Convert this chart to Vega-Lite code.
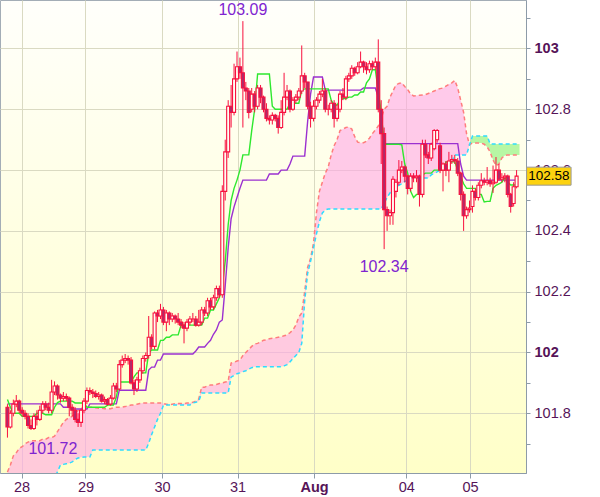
{
"$schema":"https://vega.github.io/schema/vega-lite/v6.json",
"width":526,"height":473,
"autosize":"none",
"padding":{"left":0,"top":0,"right":74,"bottom":24},
"background":"#ffffff",
"config":{
 "view":{"stroke":"#a3adb6","strokeWidth":1,"fill":{"gradient":"linear","x1":0,"y1":0,"x2":0,"y2":1,"stops":[{"offset":0,"color":"#fffffb"},{"offset":1,"color":"#ffffc8"}]}},
 "font":"Liberation Sans",
 "axis":{"labelFont":"Liberation Sans","labelColor":"#561458","domainColor":"#8d9ba8","tickColor":"#8d9ba8","gridColor":"#dadac2","gridWidth":1}
},
"datasets":{
"bars":[
{"i":0,"o":101.82,"h":101.83,"l":101.72,"c":101.755,"t":101.845,"k":101.831,"a":101.607,"b":101.56},
{"i":1,"o":101.755,"h":101.81,"l":101.75,"c":101.80,"t":101.82,"k":101.831,"a":101.63,"b":101.56},
{"i":2,"o":101.80,"h":101.845,"l":101.79,"c":101.83,"t":101.80,"k":101.831,"a":101.66,"b":101.56},
{"i":3,"o":101.83,"h":101.86,"l":101.82,"c":101.84,"t":101.80,"k":101.831,"a":101.67,"b":101.56},
{"i":4,"o":101.84,"h":101.845,"l":101.80,"c":101.81,"t":101.80,"k":101.831,"a":101.685,"b":101.56},
{"i":5,"o":101.81,"h":101.82,"l":101.79,"c":101.80,"t":101.79,"k":101.831,"a":101.69,"b":101.56},
{"i":6,"o":101.80,"h":101.81,"l":101.78,"c":101.79,"t":101.79,"k":101.831,"a":101.70,"b":101.56},
{"i":7,"o":101.79,"h":101.80,"l":101.75,"c":101.76,"t":101.79,"k":101.831,"a":101.705,"b":101.56},
{"i":8,"o":101.76,"h":101.78,"l":101.745,"c":101.75,"t":101.79,"k":101.831,"a":101.71,"b":101.56},
{"i":9,"o":101.75,"h":101.80,"l":101.745,"c":101.79,"t":101.79,"k":101.831,"a":101.71,"b":101.56},
{"i":10,"o":101.79,"h":101.81,"l":101.76,"c":101.78,"t":101.80,"k":101.831,"a":101.71,"b":101.56},
{"i":11,"o":101.78,"h":101.825,"l":101.775,"c":101.81,"t":101.80,"k":101.831,"a":101.71,"b":101.56},
{"i":12,"o":101.81,"h":101.84,"l":101.80,"c":101.83,"t":101.80,"k":101.831,"a":101.715,"b":101.56},
{"i":13,"o":101.83,"h":101.84,"l":101.81,"c":101.82,"t":101.795,"k":101.831,"a":101.715,"b":101.56},
{"i":14,"o":101.82,"h":101.835,"l":101.80,"c":101.81,"t":101.795,"k":101.831,"a":101.72,"b":101.56},
{"i":15,"o":101.81,"h":101.91,"l":101.80,"c":101.87,"t":101.795,"k":101.831,"a":101.72,"b":101.56},
{"i":16,"o":101.87,"h":101.905,"l":101.86,"c":101.89,"t":101.82,"k":101.831,"a":101.725,"b":101.59},
{"i":17,"o":101.89,"h":101.895,"l":101.845,"c":101.86,"t":101.835,"k":101.831,"a":101.74,"b":101.607},
{"i":18,"o":101.86,"h":101.865,"l":101.835,"c":101.85,"t":101.84,"k":101.831,"a":101.755,"b":101.63},
{"i":19,"o":101.85,"h":101.87,"l":101.84,"c":101.855,"t":101.84,"k":101.82,"a":101.77,"b":101.632},
{"i":20,"o":101.855,"h":101.865,"l":101.84,"c":101.85,"t":101.84,"k":101.82,"a":101.78,"b":101.634},
{"i":21,"o":101.85,"h":101.855,"l":101.79,"c":101.82,"t":101.84,"k":101.82,"a":101.785,"b":101.636},
{"i":22,"o":101.82,"h":101.83,"l":101.79,"c":101.81,"t":101.84,"k":101.814,"a":101.79,"b":101.64},
{"i":23,"o":101.81,"h":101.82,"l":101.77,"c":101.78,"t":101.834,"k":101.814,"a":101.80,"b":101.648},
{"i":24,"o":101.78,"h":101.80,"l":101.755,"c":101.77,"t":101.834,"k":101.814,"a":101.81,"b":101.653},
{"i":25,"o":101.77,"h":101.815,"l":101.755,"c":101.81,"t":101.834,"k":101.814,"a":101.815,"b":101.655},
{"i":26,"o":101.81,"h":101.85,"l":101.80,"c":101.84,"t":101.834,"k":101.814,"a":101.82,"b":101.656},
{"i":27,"o":101.84,"h":101.885,"l":101.83,"c":101.875,"t":101.82,"k":101.814,"a":101.82,"b":101.656},
{"i":28,"o":101.875,"h":101.885,"l":101.86,"c":101.87,"t":101.82,"k":101.831,"a":101.82,"b":101.656},
{"i":29,"o":101.87,"h":101.88,"l":101.85,"c":101.865,"t":101.82,"k":101.831,"a":101.82,"b":101.679},
{"i":30,"o":101.865,"h":101.875,"l":101.85,"c":101.855,"t":101.82,"k":101.831,"a":101.818,"b":101.679},
{"i":31,"o":101.855,"h":101.87,"l":101.845,"c":101.86,"t":101.82,"k":101.831,"a":101.817,"b":101.679},
{"i":32,"o":101.86,"h":101.865,"l":101.835,"c":101.84,"t":101.82,"k":101.831,"a":101.817,"b":101.679},
{"i":33,"o":101.84,"h":101.855,"l":101.83,"c":101.845,"t":101.82,"k":101.831,"a":101.815,"b":101.679},
{"i":34,"o":101.845,"h":101.85,"l":101.825,"c":101.83,"t":101.827,"k":101.831,"a":101.815,"b":101.679},
{"i":35,"o":101.83,"h":101.86,"l":101.825,"c":101.85,"t":101.827,"k":101.831,"a":101.815,"b":101.679},
{"i":36,"o":101.85,"h":101.90,"l":101.845,"c":101.89,"t":101.827,"k":101.831,"a":101.818,"b":101.679},
{"i":37,"o":101.89,"h":101.90,"l":101.87,"c":101.88,"t":101.853,"k":101.831,"a":101.82,"b":101.679},
{"i":38,"o":101.88,"h":101.975,"l":101.875,"c":101.96,"t":101.903,"k":101.876,"a":101.82,"b":101.679},
{"i":39,"o":101.96,"h":101.99,"l":101.95,"c":101.975,"t":101.903,"k":101.876,"a":101.82,"b":101.679},
{"i":40,"o":101.975,"h":101.995,"l":101.965,"c":101.98,"t":101.903,"k":101.876,"a":101.822,"b":101.679},
{"i":41,"o":101.98,"h":101.99,"l":101.96,"c":101.975,"t":101.903,"k":101.876,"a":101.825,"b":101.679},
{"i":42,"o":101.975,"h":101.985,"l":101.895,"c":101.90,"t":101.903,"k":101.876,"a":101.827,"b":101.679},
{"i":43,"o":101.90,"h":101.91,"l":101.86,"c":101.88,"t":101.92,"k":101.876,"a":101.827,"b":101.679},
{"i":44,"o":101.88,"h":101.92,"l":101.87,"c":101.91,"t":101.933,"k":101.876,"a":101.83,"b":101.679},
{"i":45,"o":101.91,"h":101.95,"l":101.90,"c":101.94,"t":101.933,"k":101.876,"a":101.832,"b":101.679},
{"i":46,"o":101.94,"h":101.99,"l":101.93,"c":101.98,"t":101.933,"k":101.876,"a":101.834,"b":101.679},
{"i":47,"o":101.98,"h":102.00,"l":101.97,"c":101.99,"t":101.933,"k":101.876,"a":101.834,"b":101.679},
{"i":48,"o":101.99,"h":102.12,"l":101.98,"c":102.05,"t":101.998,"k":101.942,"a":101.834,"b":101.702},
{"i":49,"o":102.05,"h":102.06,"l":102.01,"c":102.02,"t":102.008,"k":101.952,"a":101.834,"b":101.73},
{"i":50,"o":102.02,"h":102.135,"l":102.01,"c":102.13,"t":102.008,"k":101.952,"a":101.834,"b":101.755},
{"i":51,"o":102.13,"h":102.14,"l":102.10,"c":102.12,"t":102.008,"k":101.975,"a":101.834,"b":101.78},
{"i":52,"o":102.12,"h":102.16,"l":102.11,"c":102.14,"t":102.04,"k":101.975,"a":101.834,"b":101.80},
{"i":53,"o":102.14,"h":102.15,"l":102.09,"c":102.10,"t":102.04,"k":101.995,"a":101.832,"b":101.827},
{"i":54,"o":102.10,"h":102.14,"l":102.07,"c":102.13,"t":102.05,"k":101.995,"a":101.83,"b":101.827},
{"i":55,"o":102.13,"h":102.135,"l":102.09,"c":102.11,"t":102.05,"k":101.995,"a":101.828,"b":101.827},
{"i":56,"o":102.11,"h":102.13,"l":102.10,"c":102.12,"t":102.058,"k":101.995,"a":101.83,"b":101.827},
{"i":57,"o":102.12,"h":102.125,"l":102.095,"c":102.11,"t":102.058,"k":101.995,"a":101.832,"b":101.827},
{"i":58,"o":102.11,"h":102.13,"l":102.09,"c":102.10,"t":102.058,"k":101.995,"a":101.832,"b":101.827},
{"i":59,"o":102.10,"h":102.11,"l":102.08,"c":102.09,"t":102.09,"k":101.995,"a":101.832,"b":101.827},
{"i":60,"o":102.09,"h":102.10,"l":102.03,"c":102.08,"t":102.09,"k":101.995,"a":101.832,"b":101.827},
{"i":61,"o":102.08,"h":102.11,"l":102.07,"c":102.10,"t":102.09,"k":101.995,"a":101.834,"b":101.827},
{"i":62,"o":102.10,"h":102.12,"l":102.09,"c":102.11,"t":102.09,"k":101.995,"a":101.834,"b":101.827},
{"i":63,"o":102.11,"h":102.13,"l":102.10,"c":102.11,"t":102.09,"k":101.995,"a":101.836,"b":101.834},
{"i":64,"o":102.11,"h":102.12,"l":102.085,"c":102.09,"t":102.09,"k":102.005,"a":101.84,"b":101.836},
{"i":65,"o":102.09,"h":102.14,"l":102.085,"c":102.10,"t":102.09,"k":102.018,"a":101.847,"b":101.84},
{"i":66,"o":102.10,"h":102.15,"l":102.09,"c":102.14,"t":102.09,"k":102.018,"a":101.886,"b":101.867},
{"i":67,"o":102.14,"h":102.15,"l":102.12,"c":102.13,"t":102.113,"k":102.018,"a":101.886,"b":101.867},
{"i":68,"o":102.13,"h":102.18,"l":102.12,"c":102.17,"t":102.113,"k":102.03,"a":101.89,"b":101.867},
{"i":69,"o":102.17,"h":102.18,"l":102.14,"c":102.15,"t":102.14,"k":102.04,"a":101.893,"b":101.867},
{"i":70,"o":102.15,"h":102.19,"l":102.14,"c":102.18,"t":102.14,"k":102.06,"a":101.893,"b":101.867},
{"i":71,"o":102.18,"h":102.22,"l":102.17,"c":102.21,"t":102.16,"k":102.074,"a":101.895,"b":101.867},
{"i":72,"o":102.21,"h":102.22,"l":102.18,"c":102.19,"t":102.18,"k":102.10,"a":101.898,"b":101.867},
{"i":73,"o":102.19,"h":102.55,"l":102.18,"c":102.53,"t":102.216,"k":102.107,"a":101.90,"b":101.867},
{"i":74,"o":102.53,"h":102.70,"l":102.50,"c":102.66,"t":102.30,"k":102.22,"a":101.903,"b":101.867},
{"i":75,"o":102.66,"h":102.83,"l":102.64,"c":102.81,"t":102.42,"k":102.344,"a":101.905,"b":101.867},
{"i":76,"o":102.81,"h":102.88,"l":102.74,"c":102.79,"t":102.50,"k":102.44,"a":101.965,"b":101.919},
{"i":77,"o":102.79,"h":102.95,"l":102.78,"c":102.90,"t":102.54,"k":102.479,"a":101.968,"b":101.925},
{"i":78,"o":102.90,"h":102.99,"l":102.89,"c":102.94,"t":102.567,"k":102.51,"a":101.972,"b":101.93},
{"i":79,"o":102.94,"h":102.97,"l":102.90,"c":102.92,"t":102.60,"k":102.54,"a":101.975,"b":101.933},
{"i":80,"o":102.92,"h":103.09,"l":102.74,"c":102.87,"t":102.65,"k":102.567,"a":101.99,"b":101.937},
{"i":81,"o":102.87,"h":102.89,"l":102.83,"c":102.86,"t":102.65,"k":102.567,"a":102.00,"b":101.94},
{"i":82,"o":102.86,"h":102.87,"l":102.77,"c":102.79,"t":102.65,"k":102.567,"a":102.01,"b":101.945},
{"i":83,"o":102.80,"h":102.87,"l":102.79,"c":102.85,"t":102.73,"k":102.567,"a":102.02,"b":101.95},
{"i":84,"o":102.85,"h":102.86,"l":102.79,"c":102.81,"t":102.80,"k":102.567,"a":102.028,"b":101.953},
{"i":85,"o":102.81,"h":102.88,"l":102.80,"c":102.87,"t":102.916,"k":102.567,"a":102.03,"b":101.953},
{"i":86,"o":102.87,"h":102.88,"l":102.82,"c":102.84,"t":102.916,"k":102.567,"a":102.035,"b":101.953},
{"i":87,"o":102.84,"h":102.845,"l":102.79,"c":102.80,"t":102.916,"k":102.567,"a":102.04,"b":101.953},
{"i":88,"o":102.80,"h":102.82,"l":102.76,"c":102.77,"t":102.916,"k":102.567,"a":102.042,"b":101.953},
{"i":89,"o":102.77,"h":102.78,"l":102.75,"c":102.765,"t":102.916,"k":102.587,"a":102.045,"b":101.953},
{"i":90,"o":102.765,"h":102.79,"l":102.75,"c":102.78,"t":102.81,"k":102.587,"a":102.047,"b":101.953},
{"i":91,"o":102.78,"h":102.785,"l":102.76,"c":102.77,"t":102.80,"k":102.587,"a":102.048,"b":101.953},
{"i":92,"o":102.77,"h":102.78,"l":102.72,"c":102.74,"t":102.80,"k":102.587,"a":102.05,"b":101.953},
{"i":93,"o":102.74,"h":102.83,"l":102.735,"c":102.79,"t":102.80,"k":102.60,"a":102.052,"b":101.953},
{"i":94,"o":102.79,"h":102.92,"l":102.78,"c":102.84,"t":102.80,"k":102.60,"a":102.055,"b":101.956},
{"i":95,"o":102.84,"h":102.88,"l":102.83,"c":102.86,"t":102.80,"k":102.60,"a":102.058,"b":101.96},
{"i":96,"o":102.86,"h":102.865,"l":102.79,"c":102.80,"t":102.82,"k":102.62,"a":102.065,"b":101.969},
{"i":97,"o":102.80,"h":102.84,"l":102.795,"c":102.83,"t":102.82,"k":102.646,"a":102.074,"b":101.98},
{"i":98,"o":102.83,"h":102.85,"l":102.82,"c":102.84,"t":102.82,"k":102.646,"a":102.09,"b":101.99},
{"i":99,"o":102.84,"h":102.87,"l":102.83,"c":102.86,"t":102.82,"k":102.646,"a":102.117,"b":102.00},
{"i":100,"o":102.86,"h":103.01,"l":102.85,"c":102.91,"t":102.863,"k":102.646,"a":102.13,"b":102.03},
{"i":101,"o":102.91,"h":102.92,"l":102.87,"c":102.89,"t":102.867,"k":102.646,"a":102.20,"b":102.17},
{"i":102,"o":102.89,"h":102.89,"l":102.80,"c":102.81,"t":102.867,"k":102.76,"a":102.28,"b":102.26},
{"i":103,"o":102.81,"h":102.825,"l":102.74,"c":102.77,"t":102.867,"k":102.85,"a":102.31,"b":102.30},
{"i":104,"o":102.77,"h":102.83,"l":102.76,"c":102.81,"t":102.867,"k":102.906,"a":102.36,"b":102.345},
{"i":105,"o":102.81,"h":102.84,"l":102.80,"c":102.83,"t":102.867,"k":102.906,"a":102.46,"b":102.39},
{"i":106,"o":102.83,"h":102.86,"l":102.82,"c":102.85,"t":102.867,"k":102.906,"a":102.53,"b":102.43},
{"i":107,"o":102.85,"h":102.90,"l":102.84,"c":102.86,"t":102.867,"k":102.906,"a":102.56,"b":102.459},
{"i":108,"o":102.86,"h":102.87,"l":102.79,"c":102.80,"t":102.867,"k":102.863,"a":102.59,"b":102.469},
{"i":109,"o":102.80,"h":102.815,"l":102.78,"c":102.80,"t":102.867,"k":102.863,"a":102.61,"b":102.472},
{"i":110,"o":102.80,"h":102.83,"l":102.79,"c":102.82,"t":102.83,"k":102.863,"a":102.65,"b":102.472},
{"i":111,"o":102.82,"h":102.83,"l":102.74,"c":102.77,"t":102.814,"k":102.863,"a":102.68,"b":102.472},
{"i":112,"o":102.77,"h":102.815,"l":102.76,"c":102.80,"t":102.814,"k":102.863,"a":102.70,"b":102.472},
{"i":113,"o":102.80,"h":102.86,"l":102.79,"c":102.85,"t":102.83,"k":102.863,"a":102.73,"b":102.472},
{"i":114,"o":102.85,"h":102.87,"l":102.83,"c":102.84,"t":102.835,"k":102.863,"a":102.735,"b":102.472},
{"i":115,"o":102.84,"h":102.91,"l":102.83,"c":102.90,"t":102.835,"k":102.863,"a":102.74,"b":102.472},
{"i":116,"o":102.90,"h":102.92,"l":102.89,"c":102.91,"t":102.84,"k":102.863,"a":102.742,"b":102.472},
{"i":117,"o":102.91,"h":102.945,"l":102.90,"c":102.935,"t":102.84,"k":102.863,"a":102.735,"b":102.472},
{"i":118,"o":102.935,"h":102.94,"l":102.91,"c":102.92,"t":102.847,"k":102.863,"a":102.71,"b":102.472},
{"i":119,"o":102.92,"h":102.955,"l":102.915,"c":102.94,"t":102.847,"k":102.863,"a":102.692,"b":102.472},
{"i":120,"o":102.94,"h":102.99,"l":102.935,"c":102.955,"t":102.857,"k":102.863,"a":102.69,"b":102.472},
{"i":121,"o":102.955,"h":102.96,"l":102.92,"c":102.94,"t":102.857,"k":102.87,"a":102.69,"b":102.472},
{"i":122,"o":102.94,"h":102.955,"l":102.915,"c":102.93,"t":102.887,"k":102.87,"a":102.695,"b":102.472},
{"i":123,"o":102.93,"h":102.96,"l":102.92,"c":102.95,"t":102.90,"k":102.87,"a":102.705,"b":102.472},
{"i":124,"o":102.95,"h":102.96,"l":102.93,"c":102.94,"t":102.93,"k":102.87,"a":102.72,"b":102.472},
{"i":125,"o":102.94,"h":102.97,"l":102.93,"c":102.955,"t":102.93,"k":102.87,"a":102.732,"b":102.472},
{"i":126,"o":102.955,"h":103.03,"l":102.79,"c":102.80,"t":102.86,"k":102.84,"a":102.745,"b":102.472},
{"i":127,"o":102.80,"h":102.83,"l":102.62,"c":102.72,"t":102.79,"k":102.78,"a":102.77,"b":102.472},
{"i":128,"o":102.72,"h":102.74,"l":102.34,"c":102.47,"t":102.685,"k":102.687,"a":102.80,"b":102.49},
{"i":129,"o":102.47,"h":102.48,"l":102.40,"c":102.45,"t":102.685,"k":102.687,"a":102.81,"b":102.51},
{"i":130,"o":102.45,"h":102.47,"l":102.42,"c":102.46,"t":102.685,"k":102.687,"a":102.84,"b":102.525},
{"i":131,"o":102.46,"h":102.58,"l":102.42,"c":102.57,"t":102.685,"k":102.687,"a":102.86,"b":102.53},
{"i":132,"o":102.53,"h":102.57,"l":102.51,"c":102.56,"t":102.685,"k":102.687,"a":102.88,"b":102.541},
{"i":133,"o":102.56,"h":102.633,"l":102.55,"c":102.60,"t":102.685,"k":102.687,"a":102.885,"b":102.55},
{"i":134,"o":102.60,"h":102.63,"l":102.59,"c":102.61,"t":102.683,"k":102.687,"a":102.887,"b":102.555},
{"i":135,"o":102.61,"h":102.615,"l":102.56,"c":102.58,"t":102.62,"k":102.687,"a":102.875,"b":102.562},
{"i":136,"o":102.58,"h":102.585,"l":102.52,"c":102.54,"t":102.59,"k":102.687,"a":102.865,"b":102.567},
{"i":137,"o":102.54,"h":102.59,"l":102.53,"c":102.58,"t":102.53,"k":102.687,"a":102.85,"b":102.574},
{"i":138,"o":102.58,"h":102.59,"l":102.56,"c":102.575,"t":102.51,"k":102.687,"a":102.844,"b":102.574},
{"i":139,"o":102.575,"h":102.60,"l":102.56,"c":102.58,"t":102.52,"k":102.687,"a":102.845,"b":102.574},
{"i":140,"o":102.58,"h":102.585,"l":102.48,"c":102.52,"t":102.52,"k":102.687,"a":102.846,"b":102.574},
{"i":141,"o":102.52,"h":102.70,"l":102.51,"c":102.685,"t":102.584,"k":102.687,"a":102.847,"b":102.574},
{"i":142,"o":102.685,"h":102.70,"l":102.64,"c":102.65,"t":102.59,"k":102.687,"a":102.848,"b":102.574},
{"i":143,"o":102.65,"h":102.66,"l":102.62,"c":102.64,"t":102.59,"k":102.687,"a":102.852,"b":102.574},
{"i":144,"o":102.64,"h":102.69,"l":102.63,"c":102.685,"t":102.59,"k":102.687,"a":102.856,"b":102.584},
{"i":145,"o":102.67,"h":102.735,"l":102.665,"c":102.73,"t":102.60,"k":102.687,"a":102.86,"b":102.59},
{"i":146,"o":102.70,"h":102.735,"l":102.69,"c":102.73,"t":102.60,"k":102.687,"a":102.865,"b":102.594},
{"i":147,"o":102.68,"h":102.69,"l":102.59,"c":102.60,"t":102.60,"k":102.687,"a":102.868,"b":102.60},
{"i":148,"o":102.60,"h":102.625,"l":102.53,"c":102.62,"t":102.60,"k":102.687,"a":102.87,"b":102.61},
{"i":149,"o":102.62,"h":102.63,"l":102.58,"c":102.60,"t":102.627,"k":102.687,"a":102.876,"b":102.623},
{"i":150,"o":102.60,"h":102.66,"l":102.56,"c":102.63,"t":102.627,"k":102.687,"a":102.882,"b":102.627},
{"i":151,"o":102.63,"h":102.65,"l":102.62,"c":102.635,"t":102.627,"k":102.687,"a":102.887,"b":102.627},
{"i":152,"o":102.635,"h":102.65,"l":102.62,"c":102.63,"t":102.627,"k":102.687,"a":102.895,"b":102.65},
{"i":153,"o":102.63,"h":102.64,"l":102.58,"c":102.59,"t":102.60,"k":102.687,"a":102.87,"b":102.65},
{"i":154,"o":102.59,"h":102.595,"l":102.50,"c":102.52,"t":102.58,"k":102.62,"a":102.83,"b":102.65},
{"i":155,"o":102.52,"h":102.53,"l":102.40,"c":102.45,"t":102.555,"k":102.58,"a":102.79,"b":102.65},
{"i":156,"o":102.45,"h":102.48,"l":102.44,"c":102.47,"t":102.54,"k":102.567,"a":102.72,"b":102.65},
{"i":157,"o":102.47,"h":102.50,"l":102.46,"c":102.475,"t":102.54,"k":102.567,"a":102.683,"b":102.683},
{"i":158,"o":102.48,"h":102.55,"l":102.46,"c":102.53,"t":102.54,"k":102.567,"a":102.689,"b":102.712},
{"i":159,"o":102.53,"h":102.54,"l":102.50,"c":102.51,"t":102.54,"k":102.567,"a":102.689,"b":102.712},
{"i":160,"o":102.51,"h":102.56,"l":102.50,"c":102.55,"t":102.52,"k":102.567,"a":102.689,"b":102.712},
{"i":161,"o":102.55,"h":102.59,"l":102.54,"c":102.565,"t":102.52,"k":102.567,"a":102.689,"b":102.712},
{"i":162,"o":102.565,"h":102.575,"l":102.55,"c":102.56,"t":102.495,"k":102.567,"a":102.685,"b":102.712},
{"i":163,"o":102.56,"h":102.61,"l":102.55,"c":102.565,"t":102.497,"k":102.567,"a":102.676,"b":102.712},
{"i":164,"o":102.565,"h":102.575,"l":102.545,"c":102.555,"t":102.497,"k":102.567,"a":102.66,"b":102.686},
{"i":165,"o":102.555,"h":102.615,"l":102.525,"c":102.56,"t":102.54,"k":102.567,"a":102.633,"b":102.686},
{"i":166,"o":102.56,"h":102.643,"l":102.555,"c":102.60,"t":102.55,"k":102.567,"a":102.615,"b":102.686},
{"i":167,"o":102.60,"h":102.62,"l":102.565,"c":102.57,"t":102.555,"k":102.567,"a":102.62,"b":102.686},
{"i":168,"o":102.57,"h":102.59,"l":102.56,"c":102.575,"t":102.56,"k":102.567,"a":102.64,"b":102.686},
{"i":169,"o":102.575,"h":102.59,"l":102.56,"c":102.58,"t":102.577,"k":102.567,"a":102.648,"b":102.686},
{"i":170,"o":102.58,"h":102.585,"l":102.51,"c":102.52,"t":102.56,"k":102.567,"a":102.65,"b":102.686},
{"i":171,"o":102.52,"h":102.525,"l":102.46,"c":102.48,"t":102.551,"k":102.567,"a":102.65,"b":102.686},
{"i":172,"o":102.49,"h":102.56,"l":102.48,"c":102.545,"t":102.551,"k":102.567,"a":102.65,"b":102.686},
{"i":173,"o":102.545,"h":102.60,"l":102.54,"c":102.58,"t":102.551,"k":102.567,"a":102.65,"b":102.686},
{"i":174,"a":102.65,"b":102.686}
],
"ann":[
{"i":80,"p":103.09,"lab":"103.09"},
{"i":128,"p":102.34,"lab":"102.34"},
{"i":0,"p":101.72,"lab":"101.72"}
],
"now":[{"i":173,"p":102.58,"lab":"102.58"}]
},
"data":{"name":"bars"},
"encoding":{
 "x":{"field":"i","type":"quantitative","title":null,
  "scale":{"domain":[-0.833,174.5],"nice":false,"zero":false},
  "axis":{"orient":"bottom","values":[4.8,26.5,52.5,78.2,104.2,135.5,157.2],
   "labelExpr":"datum.value < 10 ? '28' : datum.value < 40 ? '29' : datum.value < 60 ? '30' : datum.value < 90 ? '31' : datum.value < 120 ? 'Aug' : datum.value < 150 ? '04' : '05'",
   "labelFontWeight":{"condition":{"test":"datum.value > 100 && datum.value < 110","value":"bold"},"value":"normal"},
   "labelFontSize":14.5,"tickSize":5,"labelPadding":2,"labelFlush":false,"labelOverlap":false,"grid":true}},
 "y":{"field":"a","type":"quantitative","title":null,
  "scale":{"domain":[101.6036,103.1595],"nice":false,"zero":false},
  "axis":{"orient":"right","values":[101.7,101.8,101.9,102,102.1,102.2,102.3,102.4,102.5,102.6,102.7,102.8,102.9,103,103.1],
   "format":"~g",
   "labelExpr":"abs(datum.value*5 - round(datum.value*5)) > 0.01 ? '' : datum.label",
   "labelFontWeight":{"condition":{"test":"datum.value == 102 || datum.value == 103","value":"bold"},"value":"normal"},
   "gridOpacity":{"condition":{"test":"abs(datum.value*5 - round(datum.value*5)) > 0.01","value":0},"value":1},
   "labelFontSize":14.5,"tickSize":4,"labelPadding":4,"labelOverlap":false,"labelFlush":false,"grid":true}}
},
"layer":[
 {"transform":[{"filter":"datum.i <= 157"}],
  "mark":{"type":"area","fill":"#ffa6e6","fillOpacity":0.6,"clip":true},
  "encoding":{"y2":{"field":"b"}}},
 {"transform":[{"filter":"datum.i >= 157"}],
  "mark":{"type":"area","fill":"#7cf06a","fillOpacity":0.55,"clip":true},
  "encoding":{"y2":{"field":"b"}}},
 {"mark":{"type":"line","stroke":"#ff7d7d","strokeWidth":1.5,"strokeDash":[4,3],"clip":true},
  "encoding":{}},
 {"mark":{"type":"line","stroke":"#2fdcff","strokeWidth":1.5,"strokeDash":[4,3],"clip":true},
  "encoding":{"y":{"field":"b","type":"quantitative","title":null}}},
 {"mark":{"type":"line","stroke":"#9b30d0","strokeWidth":1.4,"clip":true},
  "encoding":{"y":{"field":"k","type":"quantitative","title":null}}},
 {"mark":{"type":"line","stroke":"#2ee82e","strokeWidth":1.4,"clip":true},
  "encoding":{"y":{"field":"t","type":"quantitative","title":null}}},
 {"mark":{"type":"rule","stroke":"#f8103e","strokeWidth":1,"clip":true},
  "encoding":{"y":{"field":"h","type":"quantitative","title":null},"y2":{"field":"l"}}},
 {"mark":{"type":"bar","width":3,"stroke":"#f8103e","strokeWidth":1.1,"clip":true},
  "encoding":{"y":{"field":"o","type":"quantitative","title":null},"y2":{"field":"c"},
   "fill":{"condition":{"test":"datum.c < datum.o","value":"#b02a6a"},"value":"#fffff4"}}},
 {"data":{"name":"ann"},"transform":[{"filter":"datum.i == 80"}],
  "mark":{"type":"text","align":"center","baseline":"bottom","dy":-3,"fontSize":16,"color":"#8024d0","font":"Liberation Sans"},
  "encoding":{"y":{"field":"p","type":"quantitative","title":null},"text":{"field":"lab"}}},
 {"data":{"name":"ann"},"transform":[{"filter":"datum.i == 128"}],
  "mark":{"type":"text","align":"center","baseline":"top","dy":10,"fontSize":16,"color":"#8024d0","font":"Liberation Sans"},
  "encoding":{"y":{"field":"p","type":"quantitative","title":null},"text":{"field":"lab"}}},
 {"data":{"name":"ann"},"transform":[{"filter":"datum.i == 0"}],
  "mark":{"type":"text","align":"left","baseline":"top","dx":21,"dy":3,"fontSize":16,"color":"#8024d0","font":"Liberation Sans"},
  "encoding":{"y":{"field":"p","type":"quantitative","title":null},"text":{"field":"lab"}}},
 {"data":{"name":"now"},
  "mark":{"type":"point","shape":"M1,-0.9H5.45V0.9H1Z","size":400,"filled":true,"fill":"#fcd20f","stroke":"#9a9a9a","strokeWidth":1,"opacity":1,"fillOpacity":1,"strokeOpacity":1,"clip":false},
  "encoding":{"y":{"field":"p","type":"quantitative","title":null}}},
 {"data":{"name":"now"},
  "mark":{"type":"text","align":"center","baseline":"middle","dx":32.25,"fontSize":13.5,"color":"#000000","font":"Liberation Sans","clip":false},
  "encoding":{"y":{"field":"p","type":"quantitative","title":null},"text":{"field":"lab"}}}
]
}
